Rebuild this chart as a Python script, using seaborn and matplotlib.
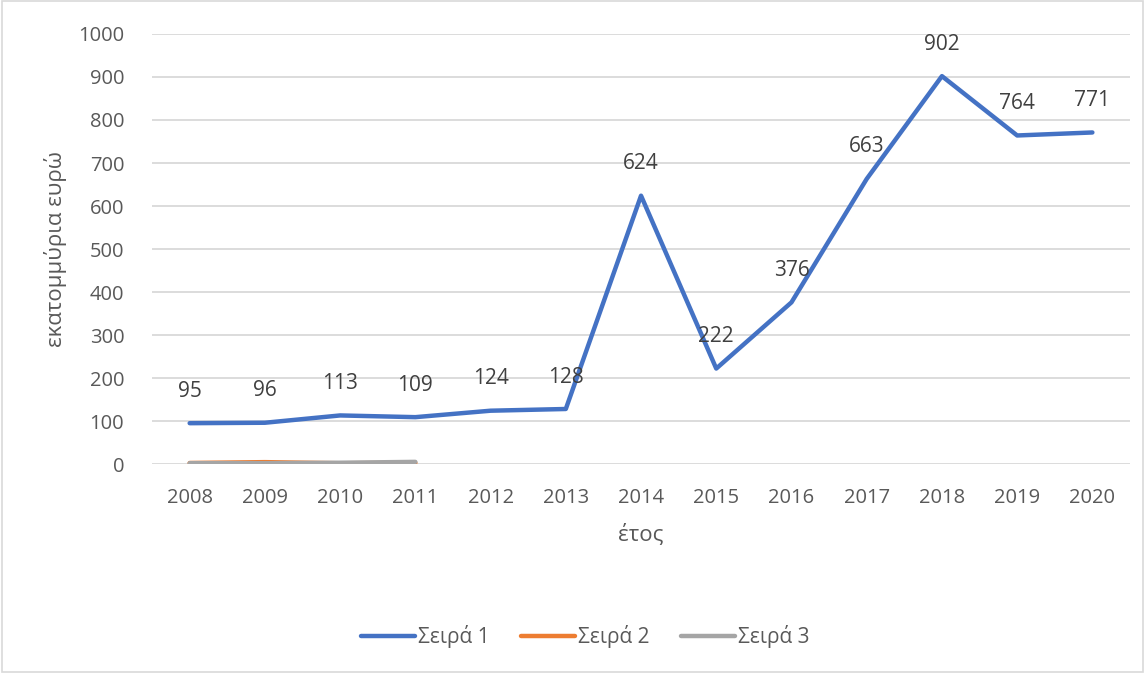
import pandas as pd
import matplotlib.pyplot as plt
import seaborn as sns
from matplotlib.patches import Rectangle

# Datos
anios = ["2008", "2009", "2010", "2011", "2012", "2013", "2014",
         "2015", "2016", "2017", "2018", "2019", "2020"]
serie1 = [95, 96, 113, 109, 124, 128, 624, 222, 376, 663, 902, 764, 771]
anios_cortos = ["2008", "2009", "2010", "2011"]
serie2 = [2.4, 4.4, 1.8, 2.8]
serie3 = [2, 2, 3, 5]

nombres = ["Σειρά 1", "Σειρά 2", "Σειρά 3"]
colores = ["#4472C4", "#ED7D31", "#A5A5A5"]

df = pd.concat([
    pd.DataFrame({"έτος": anios, "valor": serie1, "serie": nombres[0]}),
    pd.DataFrame({"έτος": anios_cortos, "valor": serie2, "serie": nombres[1]}),
    pd.DataFrame({"έτος": anios_cortos, "valor": serie3, "serie": nombres[2]}),
])

sns.set_style("white")
plt.rcParams['font.family'] = ['Open Sans', 'DejaVu Sans']
gris = "#595959"

fig = plt.figure(figsize=(11.45, 6.73), dpi=100)
ax = fig.add_axes([0.1328, 0.3105, 0.8541, 0.639])

sns.lineplot(data=df, x="έτος", y="valor", hue="serie", palette=colores,
             hue_order=nombres, linewidth=3.2, ax=ax, legend=False,
             solid_capstyle="round", sort=False)

for i, v in enumerate(serie1):
    ax.annotate(str(v), (i, v), xytext=(0, 23), textcoords="offset points",
                ha="center", va="center", fontsize=15, color="#404040")

ax.set_xlim(-0.5, len(anios) - 0.5)
ax.set_ylim(0, 1000)
ax.set_yticks(range(0, 1001, 100))
ax.yaxis.grid(True, color="#d9d9d9", linewidth=1.3)
ax.set_axisbelow(True)
for s in ax.spines.values():
    s.set_visible(False)
ax.tick_params(axis="both", length=0, labelsize=14.5, labelcolor=gris)
ax.tick_params(axis="y", pad=20)
ax.tick_params(axis="x", pad=17)
ax.set_xlabel("έτος", fontsize=16, color=gris, labelpad=12)
ax.set_ylabel("εκατομμύρια ευρώ", fontsize=16, color=gris, labelpad=8)

handles = [plt.Line2D([], [], color=c, linewidth=3.2, solid_capstyle="round")
           for c in colores]
fig.legend(handles, nombres, loc="center", bbox_to_anchor=(0.511, 0.0535),
           ncol=3, frameon=False, fontsize=15, labelcolor=gris,
           handlelength=2.6, handletextpad=0.15, columnspacing=1.5)

fig.patches.append(Rectangle((0.002, 0.002), 0.996, 0.996, transform=fig.transFigure,
                             fill=False, edgecolor="#d9d9d9", linewidth=1.2))

plt.savefig("out.png", dpi=100)
